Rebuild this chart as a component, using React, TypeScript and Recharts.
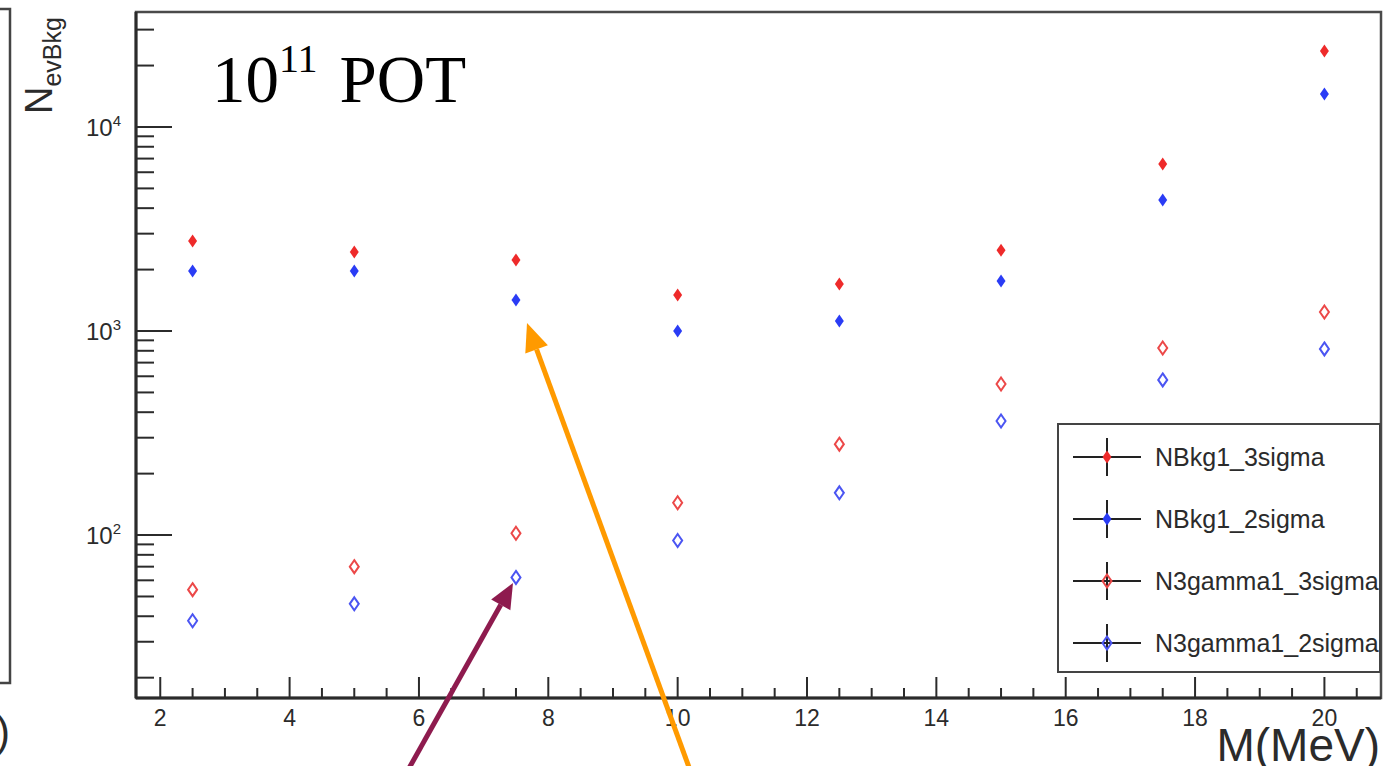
import React from 'react';
import {
  ScatterChart,
  Scatter,
  XAxis,
  YAxis,
  ReferenceArea,
  Legend,
} from 'recharts';

// dark photon mass points (MeV)
const masses = [2.5, 5, 7.5, 10, 12.5, 15, 17.5, 20];

// expected event counts per mass point
const nBkg1_3sigma = [2760, 2440, 2230, 1500, 1700, 2490, 6590, 23600];
const nBkg1_2sigma = [1970, 1970, 1420, 1000, 1120, 1760, 4390, 14500];
const n3gamma1_3sigma = [54, 70, 102, 144, 279, 550, 826, 1240];
const n3gamma1_2sigma = [38, 46, 62, 94, 161, 362, 576, 817];

const xMajorTicks = [2, 4, 6, 8, 10, 12, 14, 16, 18, 20];
const yMajorTicks = [100, 1000, 10000];

const X_DOMAIN: [number, number] = [1.625, 20.875];
const Y_DOMAIN: [number, number] = [15.9, 36600];

// minor ticks: every 0.5 on x, 2..9 x decade on y
const xMinorTicks: number[] = [];
for (let v = 2; v <= 20.5; v += 0.5) {
  if (!xMajorTicks.includes(v)) xMinorTicks.push(v);
}
const yMinorTicks: number[] = [];
for (const dec of [10, 100, 1000, 10000]) {
  for (let m = 2; m <= 9; m++) {
    const v = dec * m;
    if (v >= Y_DOMAIN[0] && v <= Y_DOMAIN[1]) yMinorTicks.push(v);
  }
}

const series = [
  { name: 'NBkg1_3sigma', values: nBkg1_3sigma, color: '#ee2a2a', open: false },
  { name: 'NBkg1_2sigma', values: nBkg1_2sigma, color: '#2a3cf5', open: false },
  { name: 'N3gamma1_3sigma', values: n3gamma1_3sigma, color: '#ec4848', open: true },
  { name: 'N3gamma1_2sigma', values: n3gamma1_2sigma, color: '#4b55f2', open: true },
];

const toPoints = (values: number[]) => masses.map((m, i) => ({ x: m, y: values[i] }));

const INK = '#2b2b2b';
const SANS = '"Liberation Sans", Arial, Helvetica, sans-serif';

const Diamond = ({ cx, cy, color, open }: { cx: number; cy: number; color: string; open: boolean }) => {
  const w = 4.5;
  const h = 6.5;
  const pts = `${cx},${cy - h} ${cx + w},${cy} ${cx},${cy + h} ${cx - w},${cy}`;
  if (open) {
    return <polygon points={pts} fill="none" stroke={color} strokeWidth={2} />;
  }
  return <polygon points={pts} fill={color} />;
};

const XTick = (props: any) => {
  const { x, y, payload } = props;
  const major = xMajorTicks.includes(payload.value);
  return (
    <g>
      <line x1={x} x2={x} y1={y} y2={y - (major ? 21 : 10)} stroke={INK} strokeWidth={2} />
      {major && (
        <text x={x} y={y + 28} textAnchor="middle" fontSize={23} fill={INK} fontFamily={SANS}>
          {payload.value}
        </text>
      )}
    </g>
  );
};

const YTick = (props: any) => {
  const { x, y, payload } = props;
  const major = yMajorTicks.includes(payload.value);
  const exp = Math.round(Math.log10(payload.value));
  return (
    <g>
      <line x1={x} x2={x + (major ? 36 : 18)} y1={y} y2={y} stroke={INK} strokeWidth={2} />
      {major && (
        <text x={x - 15} y={y + 9} textAnchor="end" fontSize={24} fill={INK} fontFamily={SANS}>
          <tspan>10</tspan>
          <tspan dy={-10} fontSize={15}>{exp}</tspan>
        </text>
      )}
    </g>
  );
};

const LegendBox = () => (
  <div
    style={{
      width: 324,
      height: 250,
      border: '2px solid #444',
      background: '#fff',
      boxSizing: 'border-box',
    }}
  >
    <svg width={320} height={246}>
      {series.map((s, i) => {
        const cy = 32 + i * 62;
        return (
          <g key={s.name}>
            <line x1={14} x2={82} y1={cy} y2={cy} stroke="#222" strokeWidth={2} />
            <line x1={48} x2={48} y1={cy - 19} y2={cy + 19} stroke="#222" strokeWidth={2} />
            <Diamond cx={48} cy={cy} color={s.color} open={s.open} />
            <text x={96} y={cy + 9} fontSize={25} fill={INK} fontFamily={SANS}>
              {s.name}
            </text>
          </g>
        );
      })}
    </svg>
  </div>
);

// arrow with a filled triangular head ending at `tip`
const Arrow = ({ from, tip, color, len, half }: { from: [number, number]; tip: [number, number]; color: string; len: number; half: number }) => {
  const dx = tip[0] - from[0];
  const dy = tip[1] - from[1];
  const d = Math.hypot(dx, dy);
  const ux = dx / d;
  const uy = dy / d;
  const bx = tip[0] - ux * len;
  const by = tip[1] - uy * len;
  const px = -uy;
  const py = ux;
  return (
    <g>
      <line x1={from[0]} y1={from[1]} x2={bx} y2={by} stroke={color} strokeWidth={5} />
      <polygon
        points={`${tip[0]},${tip[1]} ${bx + px * half},${by + py * half} ${bx - px * half},${by - py * half}`}
        fill={color}
      />
    </g>
  );
};

export default function App() {
  return (
    <div
      style={{
        position: 'fixed',
        left: 0,
        top: 0,
        width: 1383,
        height: 766,
        background: '#fff',
        overflow: 'hidden',
        fontFamily: SANS,
      }}
    >
      <ScatterChart
        width={1383}
        height={766}
        margin={{ top: 12, right: 2, bottom: 67, left: 135 }}
      >
        <XAxis
          type="number"
          dataKey="x"
          domain={X_DOMAIN}
          allowDataOverflow
          ticks={[...xMajorTicks, ...xMinorTicks].sort((a, b) => a - b)}
          interval={0}
          tickSize={0}
          tickMargin={0}
          tickLine={false}
          tick={<XTick />}
          axisLine={{ stroke: INK, strokeWidth: 3 }}
          height={1}
        />
        <YAxis
          type="number"
          dataKey="y"
          scale="log"
          domain={Y_DOMAIN}
          allowDataOverflow
          ticks={[...yMajorTicks, ...yMinorTicks].sort((a, b) => a - b)}
          interval={0}
          tickSize={0}
          tickMargin={0}
          tickLine={false}
          tick={<YTick />}
          axisLine={{ stroke: INK, strokeWidth: 3 }}
          width={1}
        />
        <ReferenceArea
          x1={X_DOMAIN[0]}
          x2={X_DOMAIN[1]}
          y1={Y_DOMAIN[0]}
          y2={Y_DOMAIN[1]}
          fill="none"
          fillOpacity={0}
          stroke="#4a4a4a"
          strokeWidth={2.5}
          ifOverflow="visible"
        />
        {series.map((s) => (
          <Scatter
            key={s.name}
            name={s.name}
            data={toPoints(s.values)}
            fill={s.color}
            isAnimationActive={false}
            shape={(p: any) => <Diamond cx={p.cx} cy={p.cy} color={s.color} open={s.open} />}
          />
        ))}
        <Legend
          layout="horizontal"
          verticalAlign="middle"
          align="center"
          content={() => <LegendBox />}
          wrapperStyle={{ left: 1057, top: 423, width: 324, height: 250 }}
        />
      </ScatterChart>

      <svg
        width={1383}
        height={766}
        style={{ position: 'absolute', left: 0, top: 0, pointerEvents: 'none' }}
      >
        {/* edge of the neighbouring panel */}
        <polyline points="0,9 10,9 10,683 0,683" fill="none" stroke="#444" strokeWidth={2.5} />
        <text x={-4} y={746} fontSize={42} fill={INK} fontFamily={SANS}>)</text>

        {/* axis titles */}
        <text
          transform="translate(52,114) rotate(-90)"
          fontSize={38}
          fill={INK}
          fontFamily={SANS}
        >
          <tspan>N</tspan>
          <tspan dy={9} fontSize={25}>evBkg</tspan>
        </text>
        <text x={1380} y={761} textAnchor="end" fontSize={46} fill={INK} fontFamily={SANS}>
          M(MeV)
        </text>

        <text x={212} y={102} fontSize={67} fill="#000" fontFamily='"Liberation Serif", "Times New Roman", serif'>
          <tspan>10</tspan>
          <tspan dy={-30} fontSize={40}>11</tspan>
          <tspan dy={30} dx={22}>POT</tspan>
        </text>

        <Arrow from={[408, 770]} tip={[513, 583]} color="#8e1b4e" len={25} half={11} />
        <Arrow from={[690, 770]} tip={[527, 323]} color="#ff9a00" len={28} half={12} />
      </svg>
    </div>
  );
}
